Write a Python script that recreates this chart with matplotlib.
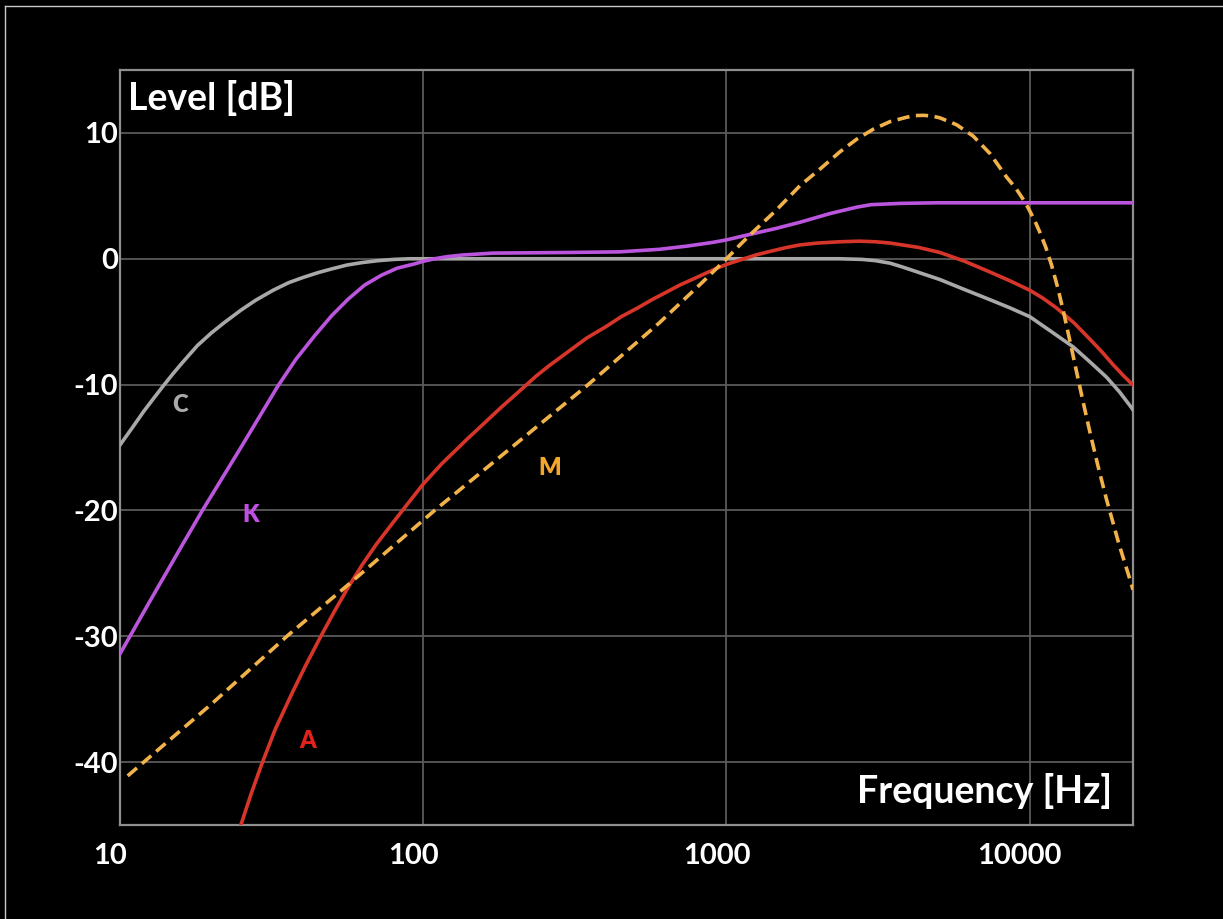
import matplotlib
matplotlib.use("Agg")
import matplotlib.pyplot as plt
from matplotlib.lines import Line2D
from matplotlib.ticker import NullLocator
from matplotlib.transforms import ScaledTranslation

# ----------------------------------------------------------
# Weighting curves (Hz, dB)
# ----------------------------------------------------------
c_freq = [10, 11, 12, 13, 14, 15, 16, 18, 20, 22, 25, 28, 32, 36, 40, 45, 50, 56,
          63, 71, 80, 90, 200, 1000, 2366, 2800, 3100, 3462, 3800, 4200, 5055, 6100,
          7387, 8600, 10000, 11800, 13900, 15800, 17900, 19800, 21600, 21900]
c_db = [-14.8, -13.4, -12.1, -11.0, -10.0, -9.1, -8.3, -6.9, -5.9, -5.1, -4.1, -3.3, -2.5,
        -1.9, -1.5, -1.1, -0.8, -0.5, -0.3, -0.15, -0.05, 0, 0, 0, 0, -0.05, -0.15,
        -0.35, -0.65, -1.0, -1.65, -2.45, -3.25, -3.9, -4.6, -5.8, -7.0, -8.2, -9.4,
        -10.6, -11.8, -12.0]

k_freq = [10, 12.56, 16, 18.7, 24.9, 33.2, 38, 43.9, 50, 56.6, 64, 72.9, 82, 93.9,
          100, 109, 120, 135, 170, 300, 444, 600, 738, 900, 1000, 1200, 1450, 1746,
          2200, 2687, 3000, 3733, 5000, 21900]
k_db = [-31.4, -27.2, -22.8, -20.0, -15.1, -10.1, -8.0, -6.1, -4.5, -3.2, -2.1, -1.3,
        -0.75, -0.4, -0.2, 0.0, 0.17, 0.3, 0.45, 0.5, 0.55, 0.75, 1.0, 1.3, 1.5,
        1.95, 2.4, 2.9, 3.6, 4.1, 4.3, 4.4, 4.45, 4.45]

a_freq = [24.5, 25.2, 27, 29.3, 32.5, 36.8, 41, 46.2, 51, 56.6, 63, 70, 78.7, 88, 100,
          115, 140, 160, 179, 208, 235, 260, 300, 346, 400, 450, 510, 573, 640, 700,
          770, 837, 920, 1000, 1107, 1250, 1400, 1580, 1746, 2000, 2366, 2738, 3100,
          3462, 4300, 5055, 6100, 7387, 8600, 10000, 11000, 12240, 14000, 15800,
          17300, 18800, 20200, 21600, 21900]
a_db = [-45.6, -44.8, -42.6, -40.2, -37.4, -34.6, -32.3, -29.9, -28.0, -26.1, -24.3,
        -22.7, -21.1, -19.6, -17.9, -16.3, -14.3, -13.0, -11.9, -10.5, -9.35, -8.5,
        -7.4, -6.3, -5.4, -4.6, -3.9, -3.2, -2.6, -2.1, -1.65, -1.25, -0.8, -0.45,
        -0.1, 0.3, 0.6, 0.9, 1.1, 1.25, 1.35, 1.4, 1.35, 1.25, 0.9, 0.5, -0.2, -1.05,
        -1.75, -2.5, -3.1, -3.9, -5.1, -6.4, -7.4, -8.4, -9.2, -9.9, -10.0]

m_freq = [10.6, 20, 35.9, 56.6, 109, 200, 346, 600, 830, 1000, 1107, 1220, 1450, 1746,
          2050, 2366, 2687, 3050, 3462, 3930, 4200, 4450, 4750, 5055, 5740, 6510, 7400,
          8380, 9000, 9650, 10000, 10400, 10800, 11300, 11800, 12400, 13000, 13700,
          14450, 15100, 15800, 16800, 17900, 19700, 21600, 21900]
m_db = [-41.1, -35.4, -29.9, -25.9, -20.0, -14.8, -10.1, -5.1, -1.9, 0.0, 1.1, 2.1, 3.8,
        5.8, 7.2, 8.5, 9.5, 10.3, 10.9, 11.25, 11.38, 11.4, 11.35, 11.2, 10.65, 9.75,
        8.35, 6.5, 5.6, 4.5, 3.8, 3.0, 2.1, 0.9, -0.5, -2.4, -4.5, -7.0, -9.6, -11.7,
        -13.8, -16.5, -19.1, -22.7, -25.8, -26.3]

x_ticks = [10, 100, 1000, 10000]
x_tick_labels = ["10", "100", "1000", "10000"]
y_ticks = [-40, -30, -20, -10, 0, 10]

curve_names = ["C", "K", "M", "A"]
name_freq = [15.8, 26.9, 262, 41.7]
name_db = [-11.6, -20.4, -16.6, -38.3]

GREY = "#a8a8a8"
PURPLE = "#bb55dd"
RED = "#d8352a"
ORANGE = "#f2b24a"
name_colors = ["#aaaaaa", "#c24fe4", "#f2a62a", "#e3221c"]

plt.rcParams["font.family"] = ["Lato", "DejaVu Sans"]
plt.rcParams["font.weight"] = "bold"
plt.rcParams["axes.unicode_minus"] = False

fig = plt.figure(figsize=(12.23, 9.19), dpi=100, facecolor="black")
ax = fig.add_axes([0.0981, 0.1023, 0.8283, 0.8215], facecolor="black")

ax.set_xscale("log")
ax.set_xlim(10, 21900)
ax.set_ylim(-45, 15)

ax.plot(c_freq, c_db, color=GREY, lw=2.6, zorder=3)
ax.plot(k_freq, k_db, color=PURPLE, lw=2.6, zorder=3)
ax.plot(a_freq, a_db, color=RED, lw=2.6, zorder=3)
ax.plot(m_freq, m_db, color=ORANGE, lw=2.6, linestyle=(0, (3.4, 1.8)), zorder=4)

for name, f, d, col in zip(curve_names, name_freq, name_db, name_colors):
    ax.text(f, d, name, color=col, fontsize=17, fontweight="heavy",
            ha="center", va="center")

ax.set_xticks(x_ticks)
ax.set_xticklabels(x_tick_labels)
ax.xaxis.set_minor_locator(NullLocator())
ax.set_yticks(y_ticks)
ax.tick_params(axis="x", length=0, pad=13, labelsize=21, labelcolor="white")
ax.tick_params(axis="y", length=0, pad=1.5, labelsize=21, labelcolor="white")
shift = ScaledTranslation(-10 / 100, 0, fig.dpi_scale_trans)
for lab in ax.get_xticklabels():
    lab.set_fontweight("bold")
    lab.set_transform(lab.get_transform() + shift)
for lab in ax.get_yticklabels():
    lab.set_fontweight("bold")

ax.grid(True, color="#5a5a5a", lw=1.3)
ax.set_axisbelow(True)
for sp in ax.spines.values():
    sp.set_color("#8f8f8f")
    sp.set_linewidth(1.6)

ax.text(0.008, 0.947, "Level [dB]", transform=ax.transAxes, color="white",
        fontsize=27, fontweight="bold", ha="left", va="baseline")
ax.text(0.979, 0.029, "Frequency [Hz]", transform=ax.transAxes, color="white",
        fontsize=27, fontweight="bold", ha="right", va="baseline")

# thin edge of the original screenshot
fig.add_artist(Line2D([0.004, 1.0], [0.9935, 0.9935], transform=fig.transFigure,
                      color="#c8c8c8", lw=1))
fig.add_artist(Line2D([0.004, 0.004], [0.0, 0.9935], transform=fig.transFigure,
                      color="#c8c8c8", lw=1))

fig.savefig("out.png", dpi=100, facecolor="black")
